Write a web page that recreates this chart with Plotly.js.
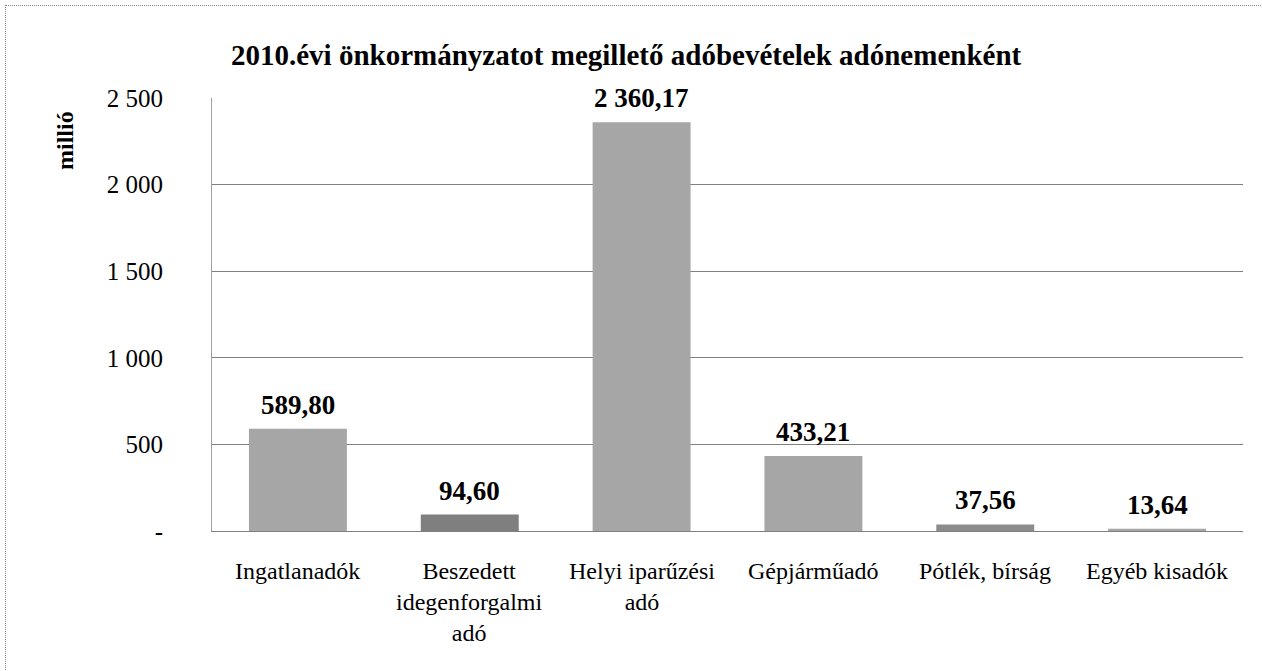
<!DOCTYPE html>
<html><head><meta charset="utf-8">
<script src="https://cdn.plot.ly/plotly-3.0.1.min.js"></script>
<style>
html,body{margin:0;padding:0;background:#fff;}
#frame{position:absolute;left:5px;top:5px;width:1257px;height:666px;border-top:1px dotted #888;border-left:1px dotted #888;pointer-events:none;}
#chart{position:absolute;left:0;top:0;width:1262px;height:671px;}
#chart .ytick text, #chart text.annotation-text {font-family: "Liberation Serif", "Times New Roman", serif !important;}
</style></head>
<body>
<div id="chart"></div>
<div id="frame"></div>
<script>
const categories = ["Ingatlanadók", "Beszedett idegenforgalmi adó", "Helyi iparűzési adó", "Gépjárműadó", "Pótlék, bírság", "Egyéb kisadók"];
const categoryLabels = ["Ingatlanadók", "Beszedett<br>idegenforgalmi<br>adó", "Helyi iparűzési<br>adó", "Gépjárműadó", "Pótlék, bírság", "Egyéb kisadók"];
const values = [589.80, 94.60, 2360.17, 433.21, 37.56, 13.64];
const valueLabels = ["589,80", "94,60", "2 360,17", "433,21", "37,56", "13,64"];
const tickVals = [0, 500, 1000, 1500, 2000, 2500];
const tickText = ["-", "500", "1 000", "1 500", "2 000", "2 500"];
const barColors = ["#a6a6a6", "#7f7f7f", "#a6a6a6", "#a6a6a6", "#8c8c8c", "#a6a6a6"];
const chartTitle = "2010.évi önkormányzatot megillető adóbevételek adónemenként";
const yTitle = "millió";

const font = "Liberation Serif, Times New Roman, serif";
const annotations = [];
categories.forEach((c, i) => {
  annotations.push({
    x: c, y: values[i], xref: "x", yref: "y",
    text: "<b>" + valueLabels[i] + "</b>", showarrow: false,
    yanchor: "bottom", yshift: 7,
    font: {family: font, size: 27, color: "#000"}
  });
  annotations.push({
    x: c, y: 0, xref: "x", yref: "y",
    text: categoryLabels[i], showarrow: false,
    yanchor: "top", xanchor: "center", yshift: -25,
    font: {family: font, size: 24, color: "#000"}
  });
});
annotations.push({
  text: "<b>" + chartTitle + "</b>", xref: "paper", yref: "paper",
  x: 0.4025, y: 1.099, xanchor: "center", yanchor: "middle", showarrow: false,
  font: {family: font, size: 29, color: "#000"}
});
annotations.push({
  text: "<b>" + yTitle + "</b>", xref: "paper", yref: "paper", x: -0.1426, y: 0.903,
  xanchor: "center", yanchor: "middle", textangle: -90, showarrow: false,
  font: {family: font, size: 24, color: "#000"}
});

Plotly.newPlot("chart", [{
  type: "bar",
  x: categories,
  y: values,
  marker: {color: barColors},
  width: 0.57,
  hoverinfo: "none"
}], {
  width: 1262, height: 671,
  font: {family: font, color: "#000"},
  margin: {l: 212, r: 19, t: 98, b: 140},
  paper_bgcolor: "#fff", plot_bgcolor: "#fff",
  showlegend: false,
  xaxis: {
    showticklabels: false,
    showline: true, linecolor: "#808080", linewidth: 1,
    ticks: "", fixedrange: true
  },
  yaxis: {
    range: [0, 2500], tickvals: tickVals, ticktext: tickText,
    tickfont: {family: font, size: 25, color: "#000"},
    showgrid: true, gridcolor: "#808080", gridwidth: 1,
    showline: true, linecolor: "#a0a0a0", linewidth: 1,
    zeroline: false, ticks: "", ticklabelstandoff: 43
  },
  annotations: annotations
}, {staticPlot: true});
</script>
</body></html>
